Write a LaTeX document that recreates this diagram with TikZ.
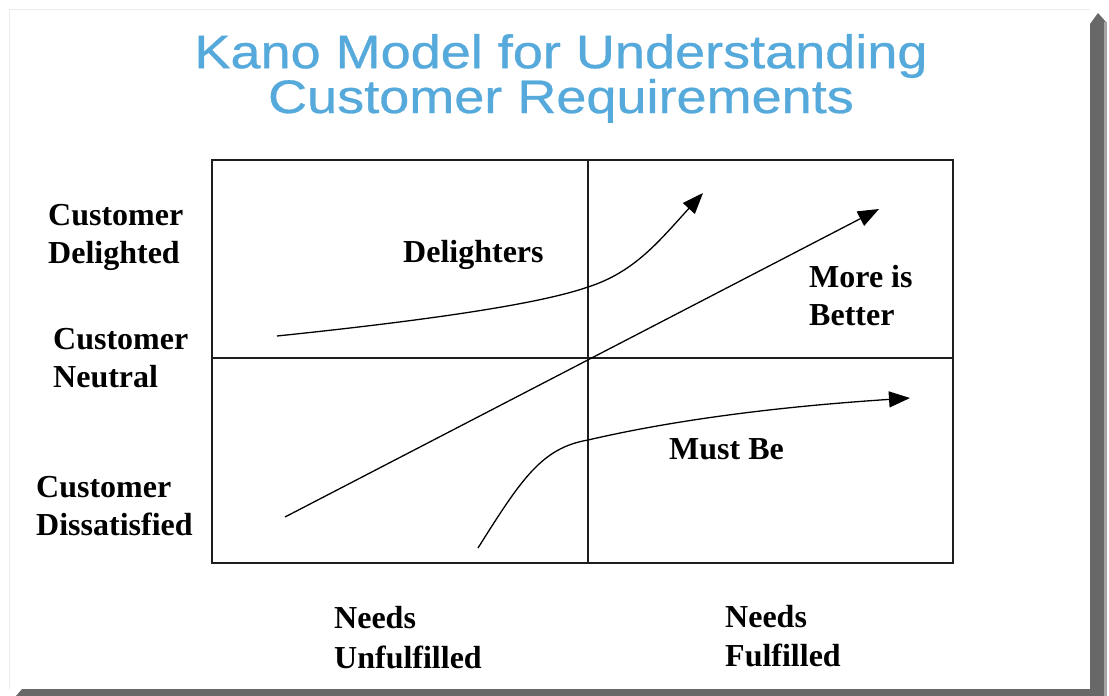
\documentclass[tikz,border=0pt]{standalone}
\usepackage{fontspec}
\setmainfont{Liberation Serif}
\newfontfamily\titlefont[FakeBold=0.6]{Liberation Sans}
\usetikzlibrary{positioning}
\usetikzlibrary{arrows.meta}

\definecolor{kanoblue}{RGB}{86,170,219}
\definecolor{shadowgray}{RGB}{104,104,104}
\definecolor{linegray}{RGB}{30,30,30}

\tikzset{
  lbl/.style={font=\bfseries\fontsize{32}{38}\selectfont, align=left, anchor=base west, inner sep=0pt},
  quad/.style={draw=linegray, line width=1.8pt},
  curva/.style={line width=1.3pt, -{Triangle[length=21pt,width=16pt]}},
}

\begin{document}
\begin{tikzpicture}[x=1pt, y=-1pt]
  \useasboundingbox (0,0) rectangle (1109,696);

  % Marco
  \fill[white] (0,0) rectangle (1109,696);
  \draw[black!8] (9,689) -- (9,9) -- (1090,9);
  \fill[shadowgray] (1090,24) -- (1098,13) -- (1106,22) -- (1106,696)
    -- (16,696) -- (22,689) -- (1090,689) -- cycle;
  \fill[black!35] (1104,22) rectangle (1107,696);

  % Titulo (base = ultima linea)
  \node[font=\titlefont\fontsize{47}{41}\selectfont, text=kanoblue, align=center,
        anchor=base, inner sep=0pt, xscale=1.15] (titulo) at (561,113)
        {Kano Model for Understanding\\Customer Requirements};

  % Cuadrantes
  \coordinate (nw) at (212,160);
  \coordinate (se) at (953,563);
  \coordinate (arriba) at (588,160);
  \coordinate (abajo) at (588,563);
  \coordinate (izq) at (212,358);
  \coordinate (der) at (953,358);
  \draw[quad] (nw) rectangle (se);
  \draw[quad] (arriba) -- (abajo);
  \draw[quad] (izq) -- (der);

  % Etiquetas
  \node[lbl] (delighted) at (48,263) {Customer\\Delighted};
  \node[lbl] (neutral) at (53,387) {Customer\\Neutral};
  \node[lbl] (dissat) at (36,535) {Customer\\Dissatisfied};
  \node[lbl] (delighters) at (403,262) {Delighters};
  \node[lbl] (better) at (809,325) {More is\\Better};
  \node[lbl] (mustbe) at (669,459) {Must Be};
  \node[lbl, font=\bfseries\fontsize{32}{40}\selectfont] (unfulfilled) at (334,668) {Needs\\Unfulfilled};
  \node[lbl, font=\bfseries\fontsize{32}{39}\selectfont] (fulfilled) at (725,666) {Needs\\Fulfilled};

  % Curvas
  \coordinate (d0) at (277,336);
  \coordinate (d1) at (588,287);
  \coordinate (d2) at (703,193);
  \coordinate (b0) at (285,517);
  \coordinate (b1) at (879,209);
  \coordinate (m0) at (478,548);
  \coordinate (m1) at (588,440);
  \coordinate (m2) at (910,398);

  \draw[curva] (d0) .. controls (450,318) and (545,302) .. (d1)
    .. controls (635,272) and (660,240) .. (d2);
  \draw[curva] (b0) -- (b1);
  \draw[curva] (m0) .. controls (522,478) and (542,448) .. (m1)
    .. controls (700,414) and (820,404) .. (m2);
\end{tikzpicture}
\end{document}
